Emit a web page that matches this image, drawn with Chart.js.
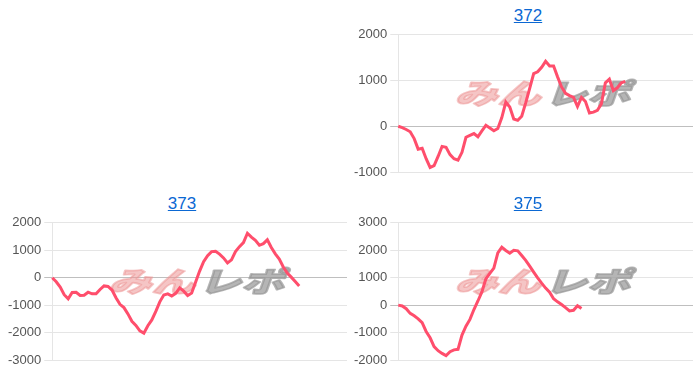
<!DOCTYPE html>
<html>
<head>
<meta charset="utf-8">
<title>みんレポ</title>
<script src="https://cdn.jsdelivr.net/npm/chart.js@4.4.1/dist/chart.umd.min.js"></script>
<style>
  body {
    margin: 0;
    width: 700px;
    height: 376px;
    background: #fff;
    position: relative;
    overflow: hidden;
    font-family: Arial, "Liberation Sans", sans-serif;
  }
  .cell { position: absolute; width: 350px; height: 188px; }
  .cell a {
    position: absolute; left: 0; right: 0; top: 6px;
    padding-left: 6px;
    text-align: center;
    font-size: 17px; line-height: 20px;
    color: #0b68d3; text-decoration: underline;
  }
  .cell canvas { position: absolute; left: 0; top: 24px; }
</style>
</head>
<body>

<div class="cell" style="left:350px; top:0;">
  <a href="#372">372</a>
  <canvas id="chart372" width="350" height="164"></canvas>
</div>
<div class="cell" style="left:4px; top:188px;">
  <a href="#373">373</a>
  <canvas id="chart373" width="350" height="164"></canvas>
</div>
<div class="cell" style="left:350px; top:188px;">
  <a href="#375">375</a>
  <canvas id="chart375" width="350" height="164"></canvas>
</div>

<script>
// ---- データ ----
// x軸: 全幅で 75 ステップ（ラベルは非表示）
const categories = Array.from({ length: 75 }, (_, i) => i + 1);

// 台番号ごとの差枚推移
const values372 = [
  0, -30, -70, -120, -270, -500, -480, -710, -900, -860,
  -660, -440, -460, -620, -710, -740, -570, -240, -200, -160,
  -230, -100, 20, -40, -100, -50, 190, 530, 420, 160,
  130, 220, 510, 830, 1150, 1190, 1290, 1420, 1320, 1320,
  1080, 860, 720, 670, 630, 430, 630, 540, 290, 310,
  350, 490, 950, 1030, 780, 840, 950, 980
];
const values373 = [
  0, -150, -340, -620, -770, -540, -530, -650, -640, -530,
  -590, -590, -430, -300, -320, -450, -730, -970, -1090, -1320,
  -1590, -1740, -1940, -2020, -1750, -1540, -1230, -880, -630, -590,
  -670, -570, -370, -490, -650, -560, -160, 240, 580, 800,
  950, 960, 860, 720, 540, 650, 950, 1130, 1280, 1620,
  1480, 1360, 1180, 1240, 1380, 1100, 870, 680, 390, 170,
  20, -140, -300
];
const values375 = [
  0, -30, -130, -300, -390, -500, -640, -960, -1190, -1510,
  -1660, -1760, -1840, -1700, -1630, -1610, -1090, -770, -520, -160,
  150, 480, 960, 1160, 1350, 1900, 2110, 1990, 1890, 2000,
  1980, 1810, 1630, 1420, 1200, 990, 800, 620, 470, 230,
  120, 20, -90, -210, -190, -20, -120
];

// y軸の目盛り
const yTicks372 = [-1000, 0, 1000, 2000];
const yTicks373 = [-3000, -2000, -1000, 0, 1000, 2000];
const yTicks375 = [-2000, -1000, 0, 1000, 2000, 3000];

Chart.defaults.font.family = "Arial, 'Liberation Sans', sans-serif";
Chart.defaults.font.size = 13;
Chart.defaults.color = '#555';

// 背景ロゴ（みんレポ）
const logoPlugin = {
  id: 'minrepoLogo',
  beforeDatasetsDraw(chart) {
    const { ctx, chartArea: a } = chart;
    const cx = (a.left + a.right) / 2;
    const cy = (a.top + a.bottom) / 2 - 10;
    ctx.save();
    ctx.translate(cx, cy);
    ctx.transform(1.3, 0, -0.3, 0.85, 0, 0);
    ctx.font = '900 33px "Noto Sans CJK JP"';
    ctx.textBaseline = 'middle';
    ctx.lineJoin = 'round';
    ctx.lineWidth = 2;
    ctx.textAlign = 'right';
    ctx.fillStyle = ctx.strokeStyle = 'rgba(236, 150, 150, 0.55)';
    ctx.strokeText('みん', -1, 0);
    ctx.fillText('みん', -1, 0);
    ctx.textAlign = 'left';
    ctx.fillStyle = ctx.strokeStyle = 'rgba(150, 150, 150, 0.7)';
    ctx.strokeText('レポ', 2, 0);
    ctx.fillText('レポ', 2, 0);
    ctx.restore();
  }
};

function makeChart(id, values, yTicks) {
  const ctx = document.getElementById(id);
  return new Chart(ctx, {
    type: 'line',
    data: {
      labels: categories,
      datasets: [{
        data: values,
        borderColor: 'rgb(255, 78, 108)',
        borderWidth: 3,
        pointRadius: 0,
        tension: 0,
        fill: false
      }]
    },
    options: {
      responsive: false,
      animation: false,
      layout: { padding: { left: 1, right: 7, top: 2, bottom: 16 } },
      plugins: {
        legend: { display: false },
        tooltip: { enabled: false }
      },
      scales: {
        x: { display: false },
        y: {
          min: Math.min(...yTicks),
          max: Math.max(...yTicks),
          ticks: {
            stepSize: 1000,
            callback: (v) => String(v)
          },
          grid: {
            color: (c) => (c.tick && c.tick.value === 0) ? 'rgba(0,0,0,0.25)' : 'rgba(0,0,0,0.1)'
          }
        }
      }
    },
    plugins: [logoPlugin]
  });
}

makeChart('chart372', values372, yTicks372);
makeChart('chart373', values373, yTicks373);
makeChart('chart375', values375, yTicks375);
</script>
</body>
</html>
